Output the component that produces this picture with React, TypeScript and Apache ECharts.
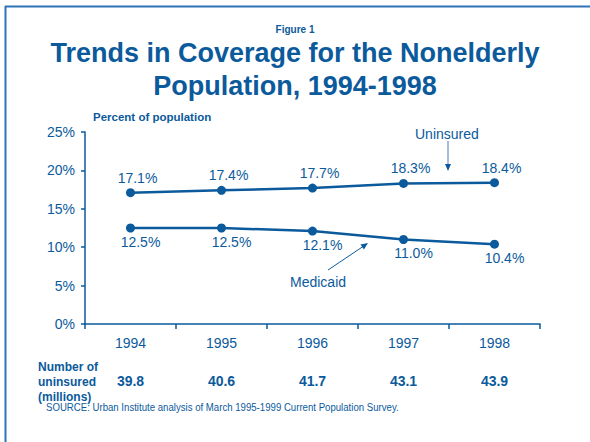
import React, { useEffect, useRef } from "react";
import * as echarts from "echarts";

const years = ["1994", "1995", "1996", "1997", "1998"];
const uninsuredPct = [17.1, 17.4, 17.7, 18.3, 18.4];
const medicaidPct = [12.5, 12.5, 12.1, 11.0, 10.4];
const uninsuredMillions = ["39.8", "40.6", "41.7", "43.1", "43.9"];

const BLUE = "#0b5a9c";
const FONT = "'Liberation Sans', Arial, sans-serif";

export default function App() {
  const ref = useRef<HTMLDivElement>(null);
  useEffect(() => {
    if (!ref.current) return;
    const chart = echarts.init(ref.current, undefined, { renderer: "svg" });
    chart.setOption({
      animation: false,
      backgroundColor: "#ffffff",
      textStyle: { fontFamily: FONT },
      title: [
        {
          text: "Figure 1",
          left: "center",
          top: 19,
          textStyle: { fontFamily: FONT, fontSize: 10, fontWeight: "bold", color: BLUE },
        },
        {
          text: "Trends in Coverage for the Nonelderly\nPopulation, 1994-1998",
          left: "center",
          top: 31,
          textStyle: { fontFamily: FONT, fontSize: 27, fontWeight: "bold", color: BLUE, lineHeight: 33 },
        },
      ],
      grid: { left: 85, right: 50, top: 132, bottom: 118, containLabel: false },
      xAxis: [
        {
          type: "category",
          data: years,
          boundaryGap: true,
          axisLine: { lineStyle: { color: BLUE, width: 1.5 } },
          axisTick: { show: true, length: 5, lineStyle: { color: BLUE, width: 1.5 } },
          axisLabel: { color: BLUE, fontSize: 14, fontFamily: FONT, margin: 12 },
        },
        {
          type: "category",
          data: uninsuredMillions,
          position: "bottom",
          offset: 50,
          axisLine: { show: false },
          axisTick: { show: false },
          axisLabel: { color: BLUE, fontSize: 14, fontWeight: "bold", fontFamily: FONT, margin: 0 },
        },
      ],
      yAxis: {
        type: "value",
        min: 0,
        max: 25,
        interval: 5,
        splitLine: { show: false },
        axisLine: { show: true, lineStyle: { color: BLUE, width: 1.5 } },
        axisTick: { show: true, length: 4, lineStyle: { color: BLUE, width: 1.5 } },
        axisLabel: { color: BLUE, fontSize: 14, fontFamily: FONT, margin: 10, formatter: "{value}%" },
      },
      series: [
        {
          name: "Uninsured",
          type: "line",
          data: uninsuredPct,
          symbol: "circle",
          symbolSize: 9,
          lineStyle: { color: BLUE, width: 2.5 },
          itemStyle: { color: BLUE },
          label: {
            show: true,
            position: "top",
            distance: 3.5,
            offset: [7, 0],
            color: BLUE,
            fontSize: 14,
            fontFamily: FONT,
            formatter: (p: any) => p.value.toFixed(1) + "%",
          },
        },
        {
          name: "Medicaid",
          type: "line",
          data: medicaidPct,
          symbol: "circle",
          symbolSize: 9,
          lineStyle: { color: BLUE, width: 2.5 },
          itemStyle: { color: BLUE },
          label: {
            show: true,
            position: "bottom",
            distance: 2,
            offset: [10, 0],
            color: BLUE,
            fontSize: 14,
            fontFamily: FONT,
            formatter: (p: any) => p.value.toFixed(1) + "%",
          },
        },
      ],
      graphic: [
        { type: "line", shape: { x1: 5, y1: 6.5, x2: 590, y2: 6.5 }, style: { stroke: "#2f73b9", lineWidth: 2 } },
        { type: "line", shape: { x1: 5.5, y1: 6, x2: 5.5, y2: 442 }, style: { stroke: "#2f73b9", lineWidth: 2 } },
        {
          type: "text",
          x: 93,
          y: 111,
          style: { text: "Percent of population", font: `bold 11.5px ${FONT}`, fill: BLUE },
        },
        {
          type: "text",
          x: 415,
          y: 127,
          style: { text: "Uninsured", font: `14px ${FONT}`, fill: BLUE },
        },
        { type: "line", shape: { x1: 448, y1: 141, x2: 448, y2: 165 }, style: { stroke: "#4a7fb5", lineWidth: 1 } },
        { type: "polygon", shape: { points: [[445, 164], [451, 164], [448, 171]] }, style: { fill: BLUE } },
        {
          type: "text",
          x: 290,
          y: 275,
          style: { text: "Medicaid", font: `14px ${FONT}`, fill: BLUE },
        },
        { type: "line", shape: { x1: 328, y1: 270, x2: 363, y2: 246.5 }, style: { stroke: BLUE, lineWidth: 1 } },
        { type: "polygon", shape: { points: [[368, 243], [363.9, 249.4], [360.5, 244.4]] }, style: { fill: BLUE } },
        {
          type: "text",
          x: 38,
          y: 359,
          style: { text: "Number of\nuninsured\n(millions)", font: `bold 12px ${FONT}`, fill: BLUE, lineHeight: 15 },
        },
        {
          type: "text",
          x: 46,
          y: 402,
          scaleX: 0.875,
          style: { text: "SOURCE: Urban Institute analysis of March 1995-1999 Current Population Survey.", font: `11px ${FONT}`, fill: BLUE },
        },
      ],
    });
    return () => chart.dispose();
  }, []);
  return (
    <div
      ref={ref}
      style={{ position: "fixed", left: 0, top: 0, width: 590, height: 442, background: "#fff" }}
    />
  );
}
